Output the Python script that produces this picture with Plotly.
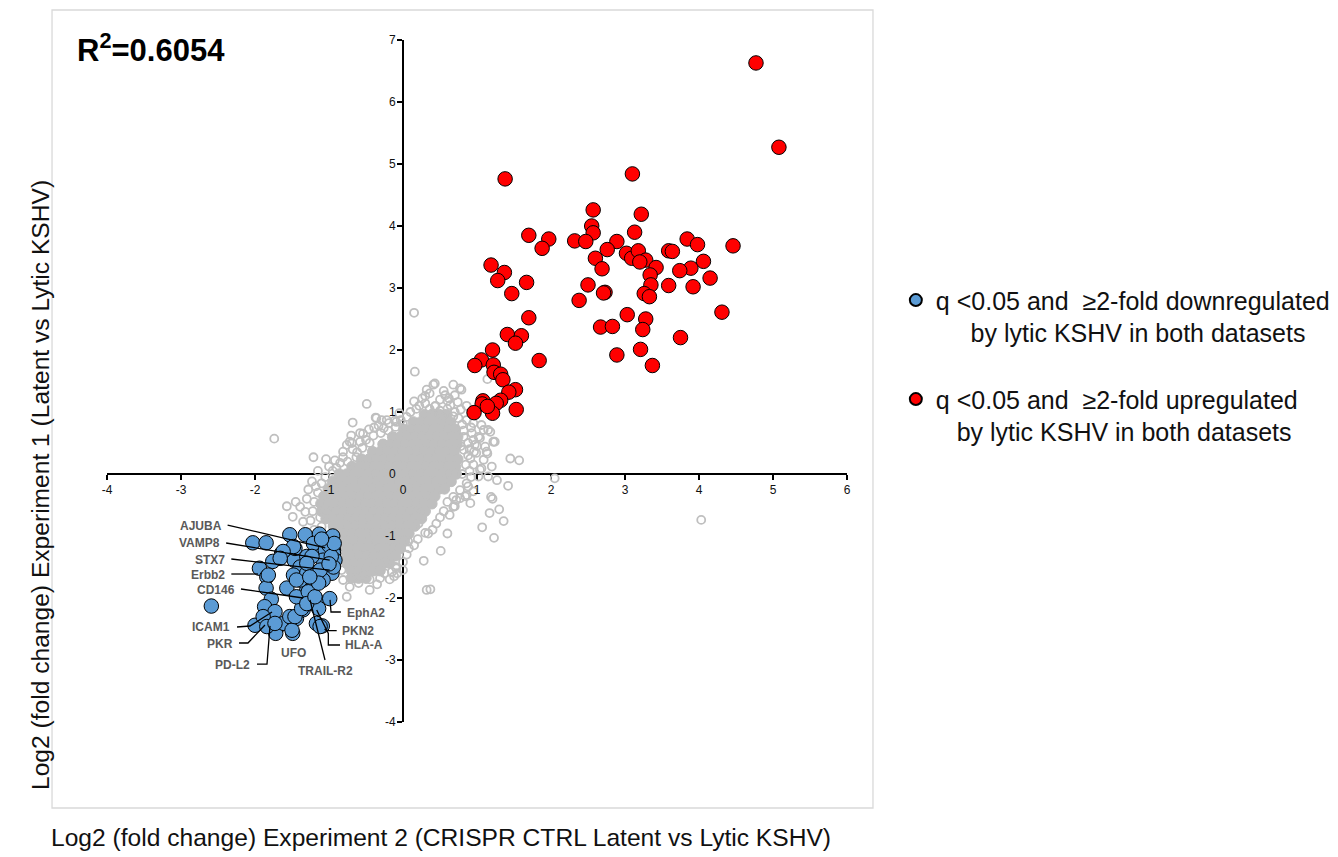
import plotly.graph_objects as go

FONT = "Liberation Sans, Arial, Helvetica, sans-serif"

# ---------------- data (log2 fold change: x = Experiment 2, y = Experiment 1) ----------------
red_x = [1.38, 3.10, 2.57, 3.22, 2.55, 2.57, 3.13, 1.70, 1.97, 1.88, 2.32, 2.47, 2.89, 2.76, 2.60,
         2.69, 3.02, 3.09, 3.18, 3.28, 3.20, 3.42, 3.34, 3.35, 3.26, 3.33, 3.59, 3.64, 3.84, 3.98,
         4.46, 4.06, 3.89, 3.74, 4.15, 3.59, 3.92, 4.31, 3.75, 3.03, 3.28, 3.24, 2.67, 2.83, 2.89,
         3.21, 3.37, 2.50, 2.38, 2.73, 2.71, 1.19, 1.37, 1.28, 1.67, 1.47, 1.70, 1.41, 1.60, 1.52,
         1.84, 1.21, 1.06, 0.97, 1.22, 1.23, 1.32, 1.35, 1.52, 1.43, 1.32, 1.26, 1.08, 1.07, 0.96,
         1.21, 1.53, 1.14, 4.77, 5.08]
red_y = [4.76, 4.84, 4.26, 4.19, 4.00, 3.89, 3.90, 3.85, 3.79, 3.64, 3.76, 3.75, 3.75, 3.62, 3.48,
         3.31, 3.56, 3.48, 3.60, 3.45, 3.42, 3.33, 3.21, 3.05, 2.91, 2.86, 3.60, 3.59, 3.79, 3.70,
         3.68, 3.43, 3.32, 3.28, 3.16, 3.04, 3.02, 2.61, 2.20, 2.57, 2.50, 2.33, 2.37, 2.38, 1.92,
         2.01, 1.75, 3.05, 2.80, 2.93, 2.92, 3.37, 3.25, 3.12, 3.09, 2.91, 2.52, 2.25, 2.23, 2.11,
         1.83, 2.00, 1.84, 1.75, 1.76, 1.64, 1.61, 1.52, 1.36, 1.32, 1.19, 1.14, 1.18, 1.13, 0.99,
         0.98, 1.04, 1.09, 6.63, 5.27]

blue_x = [-2.59, -2.03, -1.85, -1.53, -1.32, -1.13, -1.64, -1.76, -1.94, -1.84, -1.47, -1.39,
          -1.57, -1.85, -1.78, -1.87, -1.73, -1.89, -2.00, -1.71, -1.72, -1.61, -1.49, -1.44,
          -1.35, -1.28, -1.17, -1.14, -1.17, -1.09, -0.99, -1.30, -1.21, -1.39, -1.48, -1.30,
          -1.17, -1.05, -0.99, -0.94, -0.99, -1.08, -1.17, -1.30, -1.46, -1.21, -0.96, -1.08,
          -1.23, -1.53, -1.03, -0.96, -0.94, -0.92, -0.94, -1.05, -1.08, -1.12, -1.23, -1.30,
          -1.48, -1.62, -1.66, -1.82, -1.89, -1.84, -1.73, -1.50, -1.46, -1.37, -1.44, -1.44,
          -1.28, -1.30, -1.19, -1.14, -1.26, -1.12, -0.95, -1.00, -0.97, -1.00, -0.93, -1.10]
blue_y = [-2.13, -1.11, -1.11, -0.98, -0.98, -0.97, -1.28, -1.41, -1.52, -1.66, -1.39, -1.50,
          -1.84, -1.84, -2.02, -2.14, -2.22, -2.41, -2.44, -2.49, -2.57, -2.41, -2.57, -2.33,
          -2.19, -2.09, -2.03, -2.17, -2.41, -2.45, -2.01, -1.87, -1.79, -1.71, -1.63, -1.60,
          -1.60, -1.55, -1.39, -1.23, -1.09, -1.17, -1.28, -1.33, -1.20, -1.12, -1.60, -1.71,
          -1.95, -2.30, -1.06, -1.17, -1.28, -1.39, -1.50, -1.23, -1.39, -1.55, -1.33, -1.44,
          -1.17, -1.25, -1.36, -1.63, -2.30, -2.46, -2.41, -2.52, -2.30, -2.17, -1.71, -1.98,
          -1.90, -2.09, -1.98, -1.76, -1.66, -2.46, -1.00, -1.15, -1.33, -1.45, -1.12, -1.05]

# scattered (non-significant) proteins around the dense centre
gray_x = [-0.49, -0.68, -0.54, -0.37, -0.29, -0.39, -0.26, -0.19, -0.11, -0.03, 0.16, 0.15, 0.30, 0.32,
          -1.21, -1.04, -0.81, -0.76, -0.69, -0.81, -0.63, -0.72, -0.58, -0.36, -0.22, -0.09,
          -0.90, -0.85, -0.75, -0.62, -0.55, -0.50, -0.45, -0.40, -0.30, -0.20, -0.10, 0.00,
          -0.95, -1.00, -0.68, -0.58, -0.33, 0.05, 0.10, 0.18, -0.05, -0.92, -0.70, -0.46,
          0.22, 0.26, 0.36, 0.44, 0.50, 0.43, 0.68, 0.79, 0.57, 0.70, 0.43, 0.64, 0.52, 0.68,
          0.86, 0.95, 1.06, 0.93, 1.09, 1.18, 1.04, 1.22, 0.97, 1.11, 1.13, 0.99, 0.82, 0.91,
          1.09, 1.20, 1.06, 1.45, 1.57, 1.02, 1.15, 1.42, 1.19, 0.86, 0.77, 0.86, 0.68,
          1.15, 1.24, 0.96, 1.14, 1.27, 1.04, 0.91, 0.68, 0.77, 0.41, 2.05, 1.14, 0.15,
          0.80, 0.82, 0.88, 0.85, 0.90, 0.80, 0.92, 0.95, 0.78, 0.90, 0.75, 0.60, 0.70, 0.82,
          0.95, 0.88, 0.95, 0.72, 0.60, 0.55, 0.63, 0.50, 0.45, 0.40, 0.30, 0.20, 0.15, 0.08,
          0.05, 0.00, -0.10, -0.15,
          0.70, 0.77, 0.84, 1.21, 1.17, 1.30, 1.36, 1.07, 1.23, 0.60, 0.34, 0.51, 0.28, 0.37, 4.03,
          -0.22, -0.09, -0.08, -0.31, -0.45, -0.18, -0.72, -0.60, -0.76, -0.45, 0.32, 0.07, 0.21,
          0.23, -0.83, -0.81, -0.90, -0.55, -0.35, -0.25, 0.00, -0.12, -0.65,
          -1.74, -1.57, -1.49, -1.39, -1.32, -1.23, -1.35, -1.15, -1.20, -1.22, -1.12, -1.25,
          -1.05, -1.10, -1.15, -1.30, -1.45, -1.10, -1.20, -1.18, -1.28, -1.05,
          0.60, 0.74, 0.86, 0.55, 0.97, 1.02, 0.88, 0.36, 0.30, 0.50, 0.62, 0.92, 1.00, 0.78]
gray_y = [1.13, 0.83, 0.65, 0.91, 0.87, 0.75, 0.74, 0.82, 0.86, 0.87, 1.65, 1.17, 1.14, 1.36,
          0.27, 0.24, 0.36, 0.47, 0.50, 0.27, 0.27, 0.52, 0.66, 0.90, 0.87, 0.84,
          0.10, 0.18, 0.20, 0.35, 0.42, 0.55, 0.50, 0.62, 0.66, 0.70, 0.76, 0.80,
          0.05, 0.12, 0.40, 0.52, 0.78, 0.92, 1.00, 1.05, 0.98, 0.22, 0.62, 0.72,
          1.10, 1.22, 1.05, 1.10, 1.02, 1.46, 1.44, 1.36, 1.27, 1.27, 1.09, 1.11, 0.95, 0.93,
          0.87, 0.82, 0.79, 0.66, 0.71, 0.68, 0.58, 0.52, 0.47, 0.44, 0.36, 0.34, 0.39, 0.25,
          0.23, 0.12, 0.09, 0.25, 0.22, -0.04, -0.04, -0.19, -0.37, -0.15, -0.26, -0.34, -0.37,
          0.71, 0.52, 0.36, 0.33, -0.10, 0.07, -0.47, -0.53, 1.38, 1.44, -0.07, 1.53, 2.60,
          0.80, 0.60, 0.50, 0.15, 0.05, 0.00, -0.05, 0.15, 0.45, 0.40, 0.90, 1.05, 1.00, 0.70,
          0.55, -0.20, -0.28, -0.42, -0.45, -0.60, -0.66, -0.70, -0.80, -0.90, -0.95, -1.05, -1.15, -1.20,
          -1.30, -1.42, -1.50, -1.58,
          -0.52, -0.39, -0.36, -0.40, -0.63, -0.57, -0.76, -0.86, -1.03, -0.96, -0.96, -1.24, -1.40, -1.86, -0.74,
          -1.41, -1.52, -1.60, -1.68, -1.70, -1.70, -1.82, -1.76, -1.98, -1.87, -1.87, -1.09, -0.80,
          -0.61, -1.55, -1.71, -1.39, -1.62, -1.78, -1.60, -1.55, -1.65, -1.68,
          0.57, -0.52, -0.69, -0.53, -0.61, -0.12, -0.77, -0.30, -0.45, -0.60, -0.70, -0.75,
          -0.05, -0.15, 0.05, -0.40, -0.45, -0.85, -0.90, -0.20, -0.25, -0.60,
          1.18, 1.16, 1.10, 1.34, 0.98, 0.60, 0.30, 1.30, 1.26, 1.20, 1.22, 0.75, 0.45, 1.04]

# densely overlapping centre of the cloud, read row by row (y level -> x positions)
core_y = [0.96, 0.84, 0.72, 0.60, 0.48, 0.36, 0.24, 0.12, 0.00, -0.12, -0.24, -0.36,
          -0.48, -0.60, -0.72, -0.84, -0.96, -1.08, -1.20, -1.32, -1.44, -1.56, -1.68]
core_x = [
    [0.29, 0.39, 0.49, 0.59],
    [0.14, 0.24, 0.34, 0.44, 0.54, 0.64],
    [0.01, 0.11, 0.21, 0.31, 0.41, 0.51, 0.61, 0.71],
    [-0.14, -0.04, 0.06, 0.16, 0.26, 0.36, 0.46, 0.56, 0.66, 0.74],
    [-0.27, -0.17, -0.07, 0.03, 0.13, 0.23, 0.33, 0.43, 0.53, 0.63, 0.73],
    [-0.41, -0.31, -0.21, -0.11, -0.01, 0.09, 0.19, 0.29, 0.39, 0.49, 0.59, 0.69],
    [-0.56, -0.46, -0.36, -0.26, -0.16, -0.06, 0.04, 0.14, 0.24, 0.34, 0.44, 0.54, 0.64, 0.74],
    [-0.69, -0.59, -0.49, -0.39, -0.29, -0.19, -0.09, 0.01, 0.11, 0.21, 0.31, 0.41, 0.51, 0.61, 0.71],
    [-0.86, -0.76, -0.66, -0.56, -0.46, -0.36, -0.26, -0.16, -0.06, 0.04, 0.14, 0.24, 0.34, 0.44,
     0.54, 0.64, 0.72],
    [-0.95, -0.85, -0.75, -0.65, -0.55, -0.45, -0.35, -0.25, -0.15, -0.05, 0.05, 0.15, 0.25, 0.35,
     0.45, 0.55, 0.65],
    [-1.01, -0.91, -0.81, -0.71, -0.61, -0.51, -0.41, -0.31, -0.21, -0.11, -0.01, 0.09, 0.19, 0.29,
     0.39, 0.49, 0.56],
    [-1.07, -0.97, -0.87, -0.77, -0.67, -0.57, -0.47, -0.37, -0.27, -0.17, -0.07, 0.03, 0.13, 0.23,
     0.33, 0.43],
    [-1.11, -1.01, -0.91, -0.81, -0.71, -0.61, -0.51, -0.41, -0.31, -0.21, -0.11, -0.01, 0.09, 0.19,
     0.29, 0.39],
    [-1.10, -1.00, -0.90, -0.80, -0.70, -0.60, -0.50, -0.40, -0.30, -0.20, -0.10, 0.00, 0.10, 0.20, 0.30],
    [-1.04, -0.94, -0.84, -0.74, -0.64, -0.54, -0.44, -0.34, -0.24, -0.14, -0.04, 0.06, 0.16, 0.25],
    [-0.94, -0.84, -0.74, -0.64, -0.54, -0.44, -0.34, -0.24, -0.14, -0.04, 0.06, 0.16],
    [-0.89, -0.79, -0.69, -0.59, -0.49, -0.39, -0.29, -0.19, -0.09, 0.01, 0.08],
    [-0.85, -0.75, -0.65, -0.55, -0.45, -0.35, -0.25, -0.15, -0.05, 0.02],
    [-0.82, -0.72, -0.62, -0.52, -0.42, -0.32, -0.22, -0.12, -0.04],
    [-0.79, -0.69, -0.59, -0.49, -0.39, -0.29, -0.19, -0.10],
    [-0.76, -0.66, -0.56, -0.46, -0.36, -0.26, -0.18],
    [-0.70, -0.60, -0.50, -0.40, -0.31],
    [-0.70, -0.60, -0.50],
]

# labelled downregulated proteins
gene_names = ["AJUBA", "VAMP8", "STX7", "Erbb2", "CD146", "EphA2", "ICAM1", "PKR",
              "PD-L2", "UFO", "TRAIL-R2", "HLA-A", "PKN2"]

x_tick_vals = [-4, -3, -2, -1, 0, 1, 2, 3, 4, 5, 6]
x_tick_text = ["-4", "-3", "-2", "-1", "0", "1", "2", "3", "4", "5", "6"]
y_tick_vals = [-4, -3, -2, -1, 0, 1, 2, 3, 4, 5, 6, 7]
y_tick_text = ["-4", "-3", "-2", "-1", "0", "1", "2", "3", "4", "5", "6", "7"]

r_squared = "0.6054"
legend_down = "q <0.05 and \u00a0\u22652-fold downregulated<br>" + "\u00a0" * 5 + "by lytic KSHV in both datasets"
legend_up = "q <0.05 and \u00a0\u22652-fold upregulated<br>" + "\u00a0" * 3 + "by lytic KSHV in both datasets"

# ---------------- label layout (text position, anchor, leader line vertices) ----------------
label_layout = {
    "AJUBA": (-2.42, -0.84, "right", [(-2.37, -0.823), (-1.05, -1.19)]),
    "VAMP8": (-2.45, -1.11, "right", [(-2.39, -1.113), (-0.99, -1.39)]),
    "STX7": (-2.38, -1.39, "right", [(-2.32, -1.371), (-0.99, -1.55)]),
    "Erbb2": (-2.38, -1.63, "right", [(-2.32, -1.613), (-1.96, -1.613)]),
    "CD146": (-2.24, -1.87, "right", [(-2.19, -1.855), (-1.35, -2.0)]),
    "EphA2": (-0.79, -2.24, "left", [(-0.986, -2.03), (-0.973, -2.226), (-0.84, -2.226)]),
    "ICAM1": (-2.31, -2.47, "right", [(-2.243, -2.468), (-2.068, -2.452), (-1.77, -2.226)]),
    "PKR": (-2.27, -2.74, "right", [(-2.216, -2.726), (-2.095, -2.726), (-1.865, -2.435)]),
    "PD-L2": (-2.04, -3.08, "right", [(-1.973, -3.065), (-1.838, -3.065), (-1.797, -2.45)]),
    "UFO": (-1.486, -2.887, "center", []),
    "TRAIL-R2": (-1.041, -3.177, "center", [(-1.054, -3.0), (-1.257, -2.03)]),
    "HLA-A": (-0.81, -2.758, "left", [(-1.166, -2.194), (-1.009, -2.57), (-1.009, -2.758), (-0.851, -2.758)]),
    "PKN2": (-0.85, -2.532, "left", [(-1.06, -2.5), (-1.031, -2.527), (-0.896, -2.527)]),
}

# ---------------- figure ----------------
core_xs = [x for row in core_x for x in row]
core_ys = [y for y, row in zip(core_y, core_x) for _ in row]

fig = go.Figure()
fig.add_trace(go.Scatter(x=core_xs, y=core_ys, mode="markers", showlegend=False, hoverinfo="skip",
                         marker=dict(symbol="circle", size=10.5, color="#bfbfbf",
                                     line=dict(color="#bfbfbf", width=1))))
fig.add_trace(go.Scatter(x=gray_x, y=gray_y, mode="markers", showlegend=False,
                         marker=dict(symbol="circle-open", size=8, color="#bfbfbf",
                                     line=dict(color="#bfbfbf", width=1.8))))
fig.add_trace(go.Scatter(x=blue_x, y=blue_y, mode="markers", name=legend_down, legendgroup="down",
                         marker=dict(symbol="circle", size=14.5, color="#5b9bd5",
                                     line=dict(color="black", width=1))))
fig.add_trace(go.Scatter(x=red_x, y=red_y, mode="markers", name=legend_up, legendgroup="up",
                         marker=dict(symbol="circle", size=14.5, color="#ff0000",
                                     line=dict(color="black", width=1))))
# empty trace so the overlay axes (tick labels drawn above the points) exist
fig.add_trace(go.Scatter(x=[], y=[], xaxis="x2", yaxis="y2", showlegend=False, hoverinfo="skip"))

X_POS = 4 / 11   # where y = 0 sits inside the y range [-4, 7]
Y_POS = 0.4      # where x = 0 sits inside the x range [-4, 6]

axis_common = dict(showgrid=False, zeroline=False, fixedrange=True)
fig.update_layout(
    width=1330, height=849,
    margin=dict(l=99, r=491, t=32, b=135, autoexpand=False),
    paper_bgcolor="white", plot_bgcolor="rgba(0,0,0,0)",
    font=dict(family=FONT, color="#111111"),
    xaxis=dict(range=[-4, 6], anchor="free", position=X_POS, showline=True, linecolor="black",
               linewidth=2.4, ticks="outside", ticklen=5, tickwidth=1.5, tickcolor="black",
               tickvals=x_tick_vals, showticklabels=False, layer="below traces", **axis_common),
    yaxis=dict(range=[-4, 7], anchor="free", position=Y_POS, showline=True, linecolor="black",
               linewidth=2.4, ticks="outside", ticklen=5, tickwidth=1.5, tickcolor="black",
               tickvals=y_tick_vals, showticklabels=False, layer="below traces", **axis_common),
    xaxis2=dict(range=[-4, 6], overlaying="x", anchor="free", position=X_POS, showline=False,
                ticks="outside", ticklen=5, tickcolor="rgba(0,0,0,0)",
                tickvals=x_tick_vals, ticktext=x_tick_text,
                tickfont=dict(size=12, family=FONT, color="#111111"), layer="above traces",
                **axis_common),
    yaxis2=dict(range=[-4, 7], overlaying="y", anchor="free", position=Y_POS, side="left",
                showline=False, ticks="outside", ticklen=5, tickcolor="rgba(0,0,0,0)",
                tickvals=y_tick_vals, ticktext=y_tick_text,
                tickfont=dict(size=12, family=FONT, color="#111111"), layer="above traces",
                **axis_common),
    legend=dict(x=1.066, y=0.652, xanchor="left", yanchor="top", bgcolor="rgba(0,0,0,0)",
                font=dict(size=25, family=FONT, color="#111111"), itemsizing="constant",
                valign="top", traceorder="grouped", tracegroupgap=31),
    showlegend=True,
)

# outer chart frame
fig.add_shape(type="rect", xref="paper", yref="paper", x0=-0.0743, x1=1.0351, y0=-0.1261, y1=1.044,
              line=dict(color="#d9d9d9", width=1.3), layer="below")

# leader lines + labels
for name in gene_names:
    tx, ty, anchor, pts = label_layout[name]
    if pts:
        path = "M " + " L ".join(f"{px} {py}" for px, py in pts)
        fig.add_shape(type="path", path=path, xref="x", yref="y",
                      line=dict(color="black", width=1.3), layer="above")
    fig.add_annotation(x=tx, y=ty, xref="x", yref="y", text=f"<b>{name}</b>", showarrow=False,
                       xanchor=anchor, yanchor="middle",
                       font=dict(size=12, family=FONT, color="#595959"))

# R squared
fig.add_annotation(x=-0.0432, y=0.988, xref="paper", yref="paper", xanchor="left", yanchor="middle",
                   text=f"<b>R<sup>2</sup>={r_squared}</b>", showarrow=False,
                   font=dict(size=31, family=FONT, color="black"))

# axis titles
fig.add_annotation(x=0.4514, y=-0.170, xref="paper", yref="paper", xanchor="center", yanchor="middle",
                   text="Log2 (fold change) Experiment 2 (CRISPR CTRL Latent vs Lytic KSHV)",
                   showarrow=False, font=dict(size=24.6, family=FONT, color="#111111"))
fig.add_annotation(x=-0.0905, y=0.3475, xref="paper", yref="paper", xanchor="center", yanchor="middle",
                   text="Log2 (fold change) Experiment 1 (Latent vs Lytic KSHV)", textangle=-90,
                   showarrow=False, font=dict(size=24.6, family=FONT, color="#111111"))

fig.write_html("out.html")
